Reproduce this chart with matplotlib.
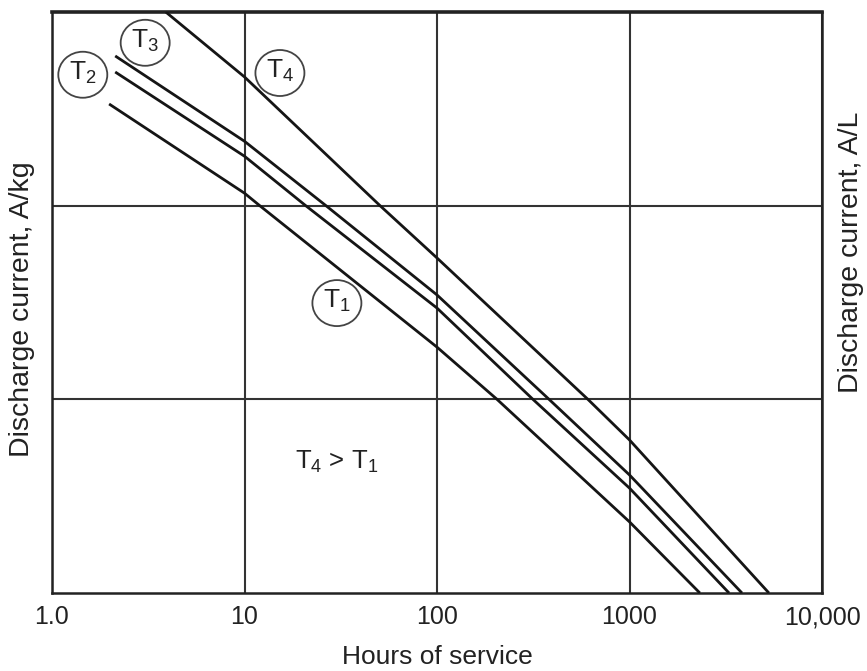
import matplotlib
matplotlib.use("Agg")
import matplotlib.pyplot as plt
from matplotlib.patches import Ellipse

plt.rcParams['font.family'] = ['Liberation Sans', 'DejaVu Sans']
plt.rcParams['mathtext.fontset'] = 'custom'
plt.rcParams['mathtext.rm'] = 'Liberation Sans'
plt.rcParams['mathtext.it'] = 'Liberation Sans:italic'
plt.rcParams['mathtext.default'] = 'regular'

# Data (hours of service vs discharge current, log-log, arbitrary current units)
hours_T4 = [3.9, 10, 50.6, 100, 608, 1000, 5300]
current_T4 = [1000, 462, 100, 53.7, 10, 6.17, 1]
hours_T3 = [2.13, 10, 26.5, 100, 382, 1000, 3840]
current_T3 = [593, 215, 100, 34.6, 10, 4.07, 1]
hours_T2 = [2.13, 10, 20.8, 100, 315, 1000, 3290]
current_T2 = [490, 180, 100, 29.6, 10, 3.48, 1]
hours_T1 = [1.98, 10, 12.0, 100, 205, 1000, 2320]
current_T1 = [335, 116, 100, 18.6, 10, 2.33, 1]

x_ticks = [1, 10, 100, 1000, 10000]
x_tick_labels = ["1.0", "10", "100", "1000", "10,000"]
y_grid = [10, 100]

fig = plt.figure(figsize=(8.67, 6.71), dpi=100)
W, H = 867, 671
ax = fig.add_axes([52 / W, (H - 593) / H, 770 / W, 581 / H])
ax.set_xscale('log')
ax.set_yscale('log')
ax.set_xlim(1, 10000)
ax.set_ylim(1, 1000)

line_kw = dict(color='#151515', lw=2.0, solid_capstyle='butt',
               solid_joinstyle='round', zorder=3)
for hx, cy in [(hours_T4, current_T4), (hours_T3, current_T3),
               (hours_T2, current_T2), (hours_T1, current_T1)]:
    ax.plot(hx, cy, **line_kw)

ax.set_xticks(x_ticks)
ax.set_xticklabels(x_tick_labels)
ax.set_yticks(y_grid)
ax.set_yticklabels([])
ax.minorticks_off()
ax.tick_params(axis='both', length=0, labelsize=18, pad=9, colors='#222222')
ax.grid(True, color='#333333', lw=1.5, zorder=1)
for s in ax.spines.values():
    s.set_linewidth(1.8)
    s.set_color('#222222')
ax.spines['top'].set_linewidth(2.6)

# Circled labels
circ_labels = [("T$_3$", 0.121, 0.947), ("T$_2$", 0.040, 0.892),
               ("T$_4$", 0.296, 0.895), ("T$_1$", 0.370, 0.499)]
for txt, fx, fy in circ_labels:
    e = Ellipse((fx, fy), 49 / 770, 46 / 581, transform=ax.transAxes,
                fill=False, ec='#444444', lw=1.3, zorder=4)
    ax.add_patch(e)
    ax.text(fx, fy + 0.003, txt, transform=ax.transAxes, ha='center', va='center',
            fontsize=19, color='#222222', zorder=5)

ax.text(0.370, 0.225, "T$_4$ > T$_1$", transform=ax.transAxes, ha='center',
        va='center', fontsize=18.5, color='#222222')

fig.text(437 / W, 1 - 657 / H, "Hours of service", ha='center', va='center',
         fontsize=19, color='#222222')
fig.text(22 / W, 1 - 309 / H, "Discharge current, A/kg", ha='center',
         va='center', rotation=90, fontsize=20.5, color='#222222')
fig.text(851 / W, 1 - 252 / H, "Discharge current, A/L", ha='center',
         va='center', rotation=90, fontsize=20.5, color='#222222')

fig.savefig("out.png", dpi=100)
